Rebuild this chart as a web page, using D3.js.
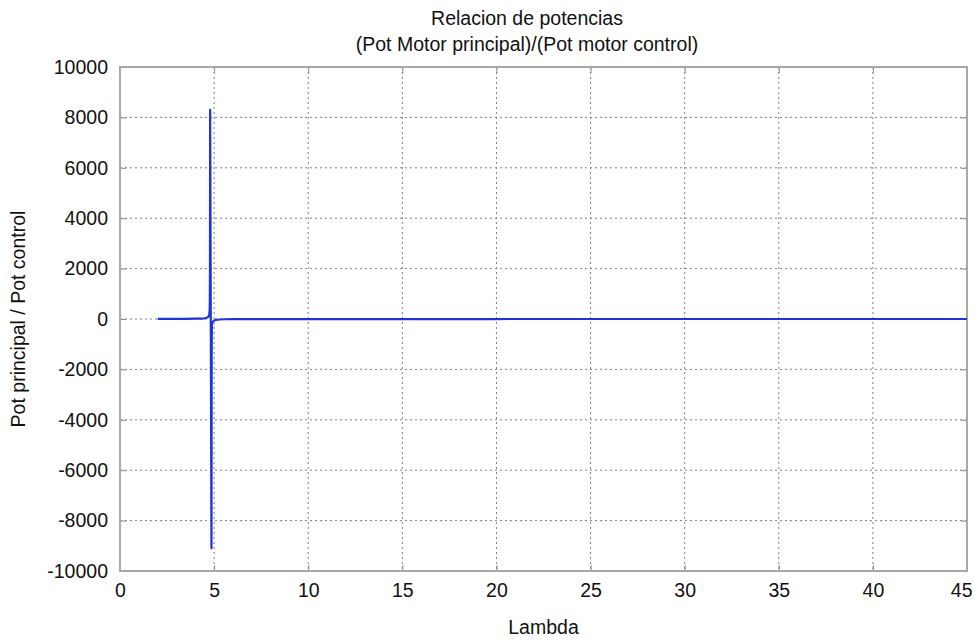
<!DOCTYPE html>
<html>
<head>
<meta charset="utf-8">
<script src="https://cdn.jsdelivr.net/npm/d3@7"></script>
<style>
  html, body { margin: 0; padding: 0; background: #fff; }
  svg { display: block; font-family: "Liberation Sans", Arial, sans-serif; }
</style>
</head>
<body>
<svg id="chart" width="975" height="640"></svg>
<script>
// Power ratio (main motor / control motor) against lambda
const lambdaValues = [2, 2.5, 3, 3.5, 4, 4.3, 4.5, 4.6, 4.7, 4.74, 4.76, 4.77, 4.78, 4.79,
  4.86, 4.87, 4.88, 4.9, 4.95, 5, 5.1, 5.3, 5.6, 6, 7, 8, 10, 12, 15, 20, 25, 30, 35, 40, 45];
const ratioValues = [3, 4, 5, 7, 12, 18, 28, 50, 90, 160, 300, 600, 1800, 8300,
  -9100, -1500, -400, -150, -90, -60, -35, -20, -10, -6, -4, -3, -2, -1, -1, -1, 0, 0, 0, 0, 0];

const xTicks = [0, 5, 10, 15, 20, 25, 30, 35, 40, 45];
const yTicks = [-10000, -8000, -6000, -4000, -2000, 0, 2000, 4000, 6000, 8000, 10000];

const titleLines = ["Relacion de potencias", "(Pot Motor principal)/(Pot motor control)"];
const xLabel = "Lambda";
const yLabel = "Pot principal / Pot control";

const W = 975, H = 640;
const margin = { top: 67, right: 8, bottom: 69, left: 120 };
const iw = W - margin.left - margin.right;
const ih = H - margin.top - margin.bottom;
const fs = 19.5;

const svg = d3.select("#chart");
const g = svg.append("g").attr("transform", `translate(${margin.left},${margin.top})`);

const x = d3.scaleLinear().domain([0, 45]).range([0, iw]);
const y = d3.scaleLinear().domain([-10000, 10000]).range([ih, 0]);

// dotted grid
g.append("g").selectAll("line").data(xTicks.slice(1, -1)).join("line")
  .attr("x1", d => x(d)).attr("x2", d => x(d))
  .attr("y1", 0).attr("y2", ih)
  .attr("stroke", "#808080").attr("stroke-width", 1).attr("stroke-dasharray", "2,3");
g.append("g").selectAll("line").data(yTicks.slice(1, -1)).join("line")
  .attr("x1", 0).attr("x2", iw)
  .attr("y1", d => y(d)).attr("y2", d => y(d))
  .attr("stroke", "#808080").attr("stroke-width", 1).attr("stroke-dasharray", "2,3");

// axes with inward ticks
const xAxis = g.append("g").attr("transform", `translate(0,${ih})`)
  .call(d3.axisBottom(x).tickValues(xTicks).tickSize(-6).tickPadding(12).tickFormat(d3.format("d")));
const xAxisTop = g.append("g")
  .call(d3.axisTop(x).tickValues(xTicks).tickSize(-6).tickFormat(""));
const yAxis = g.append("g")
  .call(d3.axisLeft(y).tickValues(yTicks).tickSize(-6).tickPadding(12).tickFormat(d3.format("d")));
const yAxisRight = g.append("g").attr("transform", `translate(${iw},0)`)
  .call(d3.axisRight(y).tickValues(yTicks).tickSize(-6).tickFormat(""));

[xAxis, xAxisTop, yAxis, yAxisRight].forEach(a => {
  a.select(".domain").remove();
  a.selectAll(".tick line").attr("stroke", "#888");
  a.selectAll("text").attr("font-size", fs).attr("fill", "#111")
    .attr("font-family", "'Liberation Sans', Arial, sans-serif");
});
yAxis.selectAll("text").text(d => d < 0 ? "-" + Math.abs(d) : d);
// keep the last x label inside the page
xAxis.selectAll(".tick").filter(d => d === 45).select("text")
  .attr("text-anchor", "end").attr("x", W - margin.left - iw - 3);

// frame
g.append("rect").attr("x", 0).attr("y", 0).attr("width", iw).attr("height", ih)
  .attr("fill", "none").attr("stroke", "#a8a8a8").attr("stroke-width", 2);

// data line
const pts = lambdaValues.map((l, i) => [l, ratioValues[i]]);
g.append("path").datum(pts)
  .attr("fill", "none").attr("stroke", "#1f34d8").attr("stroke-width", 2.2)
  .attr("stroke-linejoin", "round")
  .attr("d", d3.line().x(d => x(d[0])).y(d => y(d[1])));

// titles
svg.append("text").attr("x", 527).attr("y", 25).attr("text-anchor", "middle")
  .attr("font-size", fs).attr("fill", "#111").text(titleLines[0]);
svg.append("text").attr("x", 527).attr("y", 51).attr("text-anchor", "middle")
  .attr("font-size", fs).attr("fill", "#111").text(titleLines[1]);

svg.append("text").attr("x", margin.left + iw / 2).attr("y", 634).attr("text-anchor", "middle")
  .attr("font-size", fs).attr("fill", "#111").text(xLabel);
svg.append("text").attr("transform", `translate(25,${margin.top + ih / 2}) rotate(-90)`)
  .attr("text-anchor", "middle").attr("font-size", fs).attr("fill", "#111").text(yLabel);
</script>
</body>
</html>
